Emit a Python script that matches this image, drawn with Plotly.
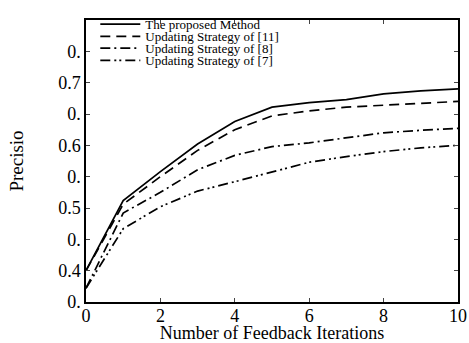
import plotly.graph_objects as go

iterations = [0, 1, 2, 3, 4, 5, 6, 7, 8, 9, 10]
proposed = [0.40, 0.512, 0.558, 0.602, 0.638, 0.661, 0.668, 0.673, 0.682, 0.687, 0.690]
strategy_11 = [0.40, 0.506, 0.550, 0.592, 0.625, 0.647, 0.655, 0.661, 0.664, 0.667, 0.670]
strategy_8 = [0.372, 0.492, 0.525, 0.561, 0.584, 0.598, 0.604, 0.612, 0.620, 0.624, 0.627]
strategy_7 = [0.372, 0.467, 0.502, 0.527, 0.542, 0.558, 0.573, 0.582, 0.590, 0.596, 0.600]

names = ["The proposed Method", "Updating Strategy of [11]",
         "Updating Strategy of [8]", "Updating Strategy of [7]"]
y_tickvals = [0.35, 0.40, 0.45, 0.50, 0.55, 0.60, 0.65, 0.70, 0.75]
y_ticktext = ["0.", "0.4", "0.", "0.5", "0.", "0.6", "0.", "0.7", "0."]
x_tickvals = [0, 2, 4, 6, 8, 10]

dashes = ["solid", "10px,6px", "10px,4px,2px,4px", "10px,4px,2px,3px,2px,4px"]
series = [proposed, strategy_11, strategy_8, strategy_7]
legend_ids = ["legend", "legend2", "legend3", "legend4"]
legend_y = [0.985, 0.942, 0.900, 0.857]

font = "Liberation Serif, Times New Roman, serif"

fig = go.Figure()
for name, vals, d, lid in zip(names, series, dashes, legend_ids):
    fig.add_trace(go.Scatter(x=iterations, y=vals, mode="lines", name=name,
                             legend=lid,
                             line=dict(color="black", width=1.7, dash=d)))

layout_legends = {}
for lid, ly in zip(legend_ids, legend_y):
    layout_legends[lid] = dict(x=0.025, y=ly, xanchor="left", yanchor="middle",
                               bgcolor="rgba(0,0,0,0)",
                               font=dict(size=13, family=font),
                               itemwidth=40, borderwidth=0)

fig.update_layout(
    width=469, height=343,
    margin=dict(l=86, r=11, t=9, b=41),
    paper_bgcolor="white", plot_bgcolor="white",
    font=dict(family=font, color="black", size=18),
    showlegend=True,
    **layout_legends,
)
fig.update_xaxes(range=[0, 10], tickvals=x_tickvals, ticks="inside", ticklen=4,
                 showline=True, linecolor="black", linewidth=1.5, mirror="ticks",
                 showgrid=False, zeroline=False, tickfont=dict(size=18),
                 ticklabelstandoff=-3,
                 automargin=False,
                 title=dict(text="Number of Feedback Iterations", font=dict(size=18), standoff=0))
fig.update_yaxes(range=[0.35, 0.80], tickvals=y_tickvals, ticktext=y_ticktext,
                 ticks="inside", ticklen=4,
                 showline=True, linecolor="black", linewidth=1.5, mirror="ticks",
                 showgrid=False, zeroline=False, tickfont=dict(size=18),
                 automargin=False,
                 title=dict(text="Precisio", font=dict(size=19), standoff=30))

fig.write_html("out.html", config={"displayModeBar": False},
               post_script="document.body.style.margin='0px';")
